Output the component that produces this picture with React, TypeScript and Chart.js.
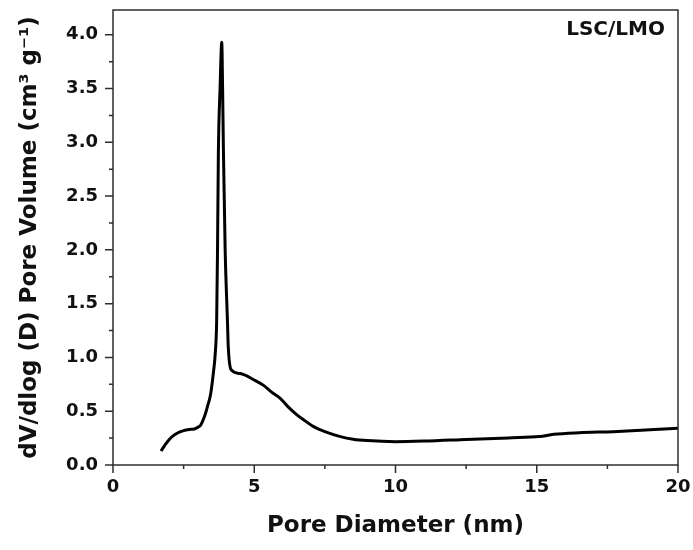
import React, { useEffect, useRef } from "react";
import { Chart, registerables } from "chart.js";

Chart.register(...registerables);

const poreDiameter: number[] = [
  1.7, 1.85, 2.0, 2.15, 2.3, 2.5, 2.7, 2.88, 3.0, 3.1, 3.25, 3.35, 3.45, 3.55,
  3.62, 3.67, 3.7, 3.73, 3.79, 3.85, 3.88, 3.91, 3.97, 4.05, 4.08, 4.18, 4.5,
  5.0, 5.33, 5.6, 5.92, 6.2, 6.51, 6.8, 7.1, 7.5, 8.05, 8.5, 9.0, 10.0, 11.0,
  12.5, 14.0, 15.1, 15.6, 16.5, 17.7, 19.0, 20.0,
];
const poreVolume: number[] = [
  0.13, 0.19, 0.24, 0.275, 0.3, 0.32, 0.33, 0.335, 0.35, 0.37, 0.46, 0.55, 0.65,
  0.85, 1.04, 1.35, 2.0, 2.9, 3.5, 3.93, 3.5, 2.9, 2.0, 1.35, 1.1, 0.886, 0.85,
  0.79, 0.74, 0.68, 0.62, 0.54, 0.466, 0.41, 0.357, 0.31, 0.264, 0.24, 0.227,
  0.217, 0.222, 0.237, 0.252, 0.264, 0.285, 0.3, 0.31, 0.327, 0.342,
];
const xMajorTicks: number[] = [0, 5, 10, 15, 20];
const xMinorTicks: number[] = [2.5, 7.5, 12.5, 17.5];
const yMajorTicks: number[] = [0, 0.5, 1.0, 1.5, 2.0, 2.5, 3.0, 3.5, 4.0];
const yMinorTicks: number[] = [0.25, 0.75, 1.25, 1.75, 2.25, 2.75, 3.25, 3.75];
const sampleLabel = "LSC/LMO";
const xTitle = "Pore Diameter (nm)";
const yTitle = "dV/dlog (D) Pore Volume (cm\u00B3 g\u207B\u00B9)";

const FONT = "'DejaVu Sans', sans-serif";
const AXIS_COLOR = "#2e2e2e";

const framePlugin = {
  id: "frame",
  afterDraw(chart: any) {
    const { ctx, chartArea } = chart;
    const xs = chart.scales.x;
    const ys = chart.scales.y;
    ctx.save();
    ctx.strokeStyle = AXIS_COLOR;
    ctx.lineWidth = 1.5;
    ctx.strokeRect(
      chartArea.left,
      chartArea.top,
      chartArea.right - chartArea.left,
      chartArea.bottom - chartArea.top
    );
    ctx.beginPath();
    xMajorTicks.forEach((v) => {
      const px = xs.getPixelForValue(v);
      ctx.moveTo(px, chartArea.bottom);
      ctx.lineTo(px, chartArea.bottom + 8);
    });
    xMinorTicks.forEach((v) => {
      const px = xs.getPixelForValue(v);
      ctx.moveTo(px, chartArea.bottom);
      ctx.lineTo(px, chartArea.bottom + 4);
    });
    yMajorTicks.forEach((v) => {
      const py = ys.getPixelForValue(v);
      ctx.moveTo(chartArea.left, py);
      ctx.lineTo(chartArea.left - 8, py);
    });
    yMinorTicks.forEach((v) => {
      const py = ys.getPixelForValue(v);
      ctx.moveTo(chartArea.left, py);
      ctx.lineTo(chartArea.left - 4, py);
    });
    ctx.stroke();
    ctx.fillStyle = "#111";
    ctx.font = "bold 20px " + FONT;
    ctx.textAlign = "right";
    ctx.textBaseline = "alphabetic";
    ctx.fillText(sampleLabel, chartArea.right - 13, chartArea.top + 25);
    ctx.restore();
  },
};

export default function App() {
  const canvasRef = useRef<HTMLCanvasElement | null>(null);

  useEffect(() => {
    if (!canvasRef.current) return;
    const points = poreDiameter.map((x, i) => ({ x, y: poreVolume[i] }));
    const chart = new Chart(canvasRef.current, {
      type: "line",
      data: {
        datasets: [
          {
            data: points,
            borderColor: "#000",
            borderWidth: 3,
            pointRadius: 0,
            fill: false,
            cubicInterpolationMode: "monotone",
          },
        ],
      },
      options: {
        animation: false,
        responsive: false,
        layout: { padding: { top: 10, right: 15, left: 0, bottom: 0 } },
        plugins: {
          legend: { display: false },
          tooltip: { enabled: false },
        },
        scales: {
          x: {
            type: "linear",
            min: 0,
            max: 20,
            grid: { display: false, drawTicks: false },
            border: { display: false },
            afterBuildTicks: (scale: any) => {
              scale.ticks = xMajorTicks.map((v) => ({ value: v }));
            },
            afterFit: (scale: any) => {
              scale.height = 85;
              scale.paddingLeft = 0;
              scale.paddingRight = 0;
            },
            ticks: {
              padding: 12,
              color: "#111",
              font: { family: FONT, weight: "bold", size: 18 },
              maxRotation: 0,
              callback: (v: any) => String(v),
            },
            title: {
              display: true,
              text: xTitle,
              color: "#111",
              font: { family: FONT, weight: "bold", size: 23, lineHeight: 1.2 },
              padding: { top: 0, bottom: 10 },
            },
          },
          y: {
            type: "linear",
            min: 0,
            max: 4.23,
            grid: { display: false, drawTicks: false },
            border: { display: false },
            afterBuildTicks: (scale: any) => {
              scale.ticks = yMajorTicks.map((v) => ({ value: v }));
            },
            afterFit: (scale: any) => {
              scale.width = 113;
              scale.paddingTop = 0;
              scale.paddingBottom = 0;
            },
            ticks: {
              padding: 15,
              color: "#111",
              font: { family: FONT, weight: "bold", size: 18 },
              callback: (v: any) => Number(v).toFixed(1),
            },
            title: {
              display: true,
              text: yTitle,
              color: "#111",
              font: { family: FONT, weight: "bold", size: 23, lineHeight: 1.2 },
              padding: { top: 16, bottom: 0 },
            },
          },
        },
      },
      plugins: [framePlugin],
    } as any);
    return () => chart.destroy();
  }, []);

  return (
    <div style={{ position: "fixed", left: 0, top: 0, width: 693, height: 550, background: "#fff" }}>
      <canvas ref={canvasRef} width={693} height={550} />
    </div>
  );
}
